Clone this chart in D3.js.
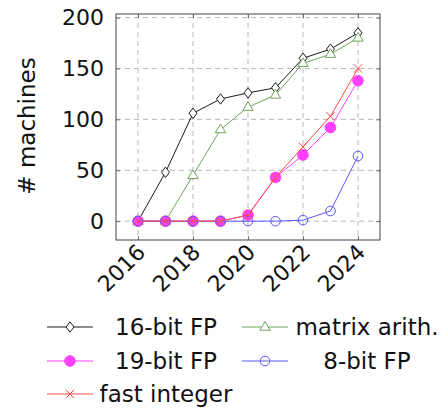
<!DOCTYPE html>
<html>
<head>
<meta charset="utf-8">
<script src="https://cdn.jsdelivr.net/npm/d3@7"></script>
<style>
  html, body { margin: 0; padding: 0; background: #fff; }
  svg { display: block; font-family: "DejaVu Sans", sans-serif; }
</style>
</head>
<body>
<svg id="chart" width="444" height="410"></svg>
<script>
const years = [2016, 2017, 2018, 2019, 2020, 2021, 2022, 2023, 2024];
const fp16 = [0, 48, 106, 120, 126, 131, 160, 169, 185];
const matrixArith = [0, 0, 45, 90, 112, 124, 155, 164, 180];
const fp19 = [0, 0, 0, 0, 6, 43, 65, 92, 138];
const fp8 = [0, 0, 0, 0, 0, 0, 1, 10, 64];
const fastInteger = [0, 0, 0, 0, 6, 43, 73, 103, 150];
const xTickLabels = ["2016", "2018", "2020", "2022", "2024"];
const yTickLabels = ["0", "50", "100", "150", "200"];
const seriesNames = ["16-bit FP", "matrix arith.", "19-bit FP", "8-bit FP", "fast integer"];

const series = [
  { name: seriesNames[0], values: fp16, color: "#1a1a1a", mark: "diamond" },
  { name: seriesNames[1], values: matrixArith, color: "#6fa55e", mark: "triangle" },
  { name: seriesNames[2], values: fp19, color: "#ff40ff", mark: "dot" },
  { name: seriesNames[3], values: fp8, color: "#5a5aff", mark: "circle" },
  { name: seriesNames[4], values: fastInteger, color: "#ff4a4a", mark: "x" }
];

const svg = d3.select("#chart");
const L = 116, R = 380, T = 14, B = 240;
const x = d3.scaleLinear().domain([2015.2, 2024.8]).range([L, R]);
const y = d3.scaleLinear().domain([-18.5, 203.5]).range([B, T]);

const xt = xTickLabels.map(Number);
const yt = yTickLabels.map(Number);

// grid
const grid = svg.append("g").attr("stroke", "#b8b8b8").attr("stroke-width", 1).attr("stroke-dasharray", "5,4");
grid.selectAll("line.gx").data(xt).join("line")
  .attr("x1", d => x(d)).attr("x2", d => x(d)).attr("y1", T).attr("y2", B);
grid.selectAll("line.gy").data(yt).join("line")
  .attr("x1", L).attr("x2", R).attr("y1", d => y(d)).attr("y2", d => y(d));

// axes with inward ticks
const axB = svg.append("g").attr("transform", `translate(0,${B})`)
  .call(d3.axisBottom(x).tickValues(xt).tickSizeInner(-4).tickSizeOuter(0).tickFormat(""));
const axT = svg.append("g").attr("transform", `translate(0,${T})`)
  .call(d3.axisTop(x).tickValues(xt).tickSizeInner(-4).tickSizeOuter(0).tickFormat(""));
const axL = svg.append("g").attr("transform", `translate(${L},0)`)
  .call(d3.axisLeft(y).tickValues(yt).tickSizeInner(-4).tickSizeOuter(0).tickFormat(""));
const axR = svg.append("g").attr("transform", `translate(${R},0)`)
  .call(d3.axisRight(y).tickValues(yt).tickSizeInner(-4).tickSizeOuter(0).tickFormat(""));
[axB, axT, axL, axR].forEach(a => {
  a.select(".domain").remove();
  a.selectAll(".tick line").attr("stroke", "#555").attr("stroke-width", 0.8);
});

// tick labels
svg.append("g").selectAll("text").data(yt).join("text")
  .attr("x", 104).attr("y", d => y(d)).attr("dy", "0.36em")
  .attr("text-anchor", "end").attr("font-size", 22).attr("fill", "#111")
  .text((d, i) => yTickLabels[i]);
svg.append("g").selectAll("text").data(xt).join("text")
  .attr("transform", d => `translate(${x(d) + 3},${B + 8}) rotate(-45)`)
  .attr("dy", "0.36em")
  .attr("text-anchor", "end").attr("font-size", 22).attr("fill", "#111")
  .text((d, i) => xTickLabels[i]);

// y label
svg.append("text")
  .attr("transform", `translate(35,126) rotate(-90)`)
  .attr("text-anchor", "middle").attr("font-size", 23).attr("fill", "#111")
  .text("# machines");

function drawMark(g, s, cx, cy) {
  if (s.mark === "diamond") {
    g.append("path").attr("d", `M${cx},${cy - 5.2}L${cx + 4},${cy}L${cx},${cy + 5.2}L${cx - 4},${cy}Z`)
      .attr("fill", "#fff").attr("stroke", s.color).attr("stroke-width", 1);
  } else if (s.mark === "triangle") {
    g.append("path").attr("d", `M${cx},${cy - 5.5}L${cx + 5.2},${cy + 3.2}L${cx - 5.2},${cy + 3.2}Z`)
      .attr("fill", "#fff").attr("stroke", s.color).attr("stroke-width", 1);
  } else if (s.mark === "dot") {
    g.append("circle").attr("cx", cx).attr("cy", cy).attr("r", 5.3).attr("fill", s.color).attr("stroke", s.color);
  } else if (s.mark === "circle") {
    g.append("circle").attr("cx", cx).attr("cy", cy).attr("r", 4.8).attr("fill", "none").attr("stroke", s.color).attr("stroke-width", 1);
  } else if (s.mark === "x") {
    const r = 4.2;
    g.append("path").attr("d", `M${cx - r},${cy - r}L${cx + r},${cy + r}M${cx - r},${cy + r}L${cx + r},${cy - r}`)
      .attr("stroke", s.color).attr("stroke-width", 1);
  }
}

const line = d3.line().x(d => x(d[0])).y(d => y(d[1]));
series.forEach(s => {
  const g = svg.append("g");
  const pts = years.map((yr, i) => [yr, s.values[i]]);
  g.append("path").datum(pts).attr("d", line).attr("fill", "none")
    .attr("stroke", s.color).attr("stroke-width", 1);
  pts.forEach(p => drawMark(g, s, x(p[0]), y(p[1])));
});

// frame
svg.append("rect").attr("x", L).attr("y", T).attr("width", R - L).attr("height", B - T)
  .attr("fill", "none").attr("stroke", "#444").attr("stroke-width", 1);

// legend
const legendPos = [
  { lx: 47, cx: 166, ly: 327 },
  { lx: 242, cx: 367, ly: 327 },
  { lx: 47, cx: 166, ly: 361 },
  { lx: 242, cx: 367, ly: 361 },
  { lx: 47, cx: 166, ly: 394 }
];
series.forEach((s, i) => {
  const p = legendPos[i];
  const g = svg.append("g");
  g.append("line").attr("x1", p.lx).attr("x2", p.lx + 46).attr("y1", p.ly).attr("y2", p.ly)
    .attr("stroke", s.color).attr("stroke-width", 1);
  drawMark(g, s, p.lx + 23, p.ly);
  g.append("text").attr("x", p.cx).attr("y", p.ly).attr("dy", "0.36em")
    .attr("text-anchor", "middle").attr("font-size", 23).attr("fill", "#111")
    .text(s.name);
});
</script>
</body>
</html>
